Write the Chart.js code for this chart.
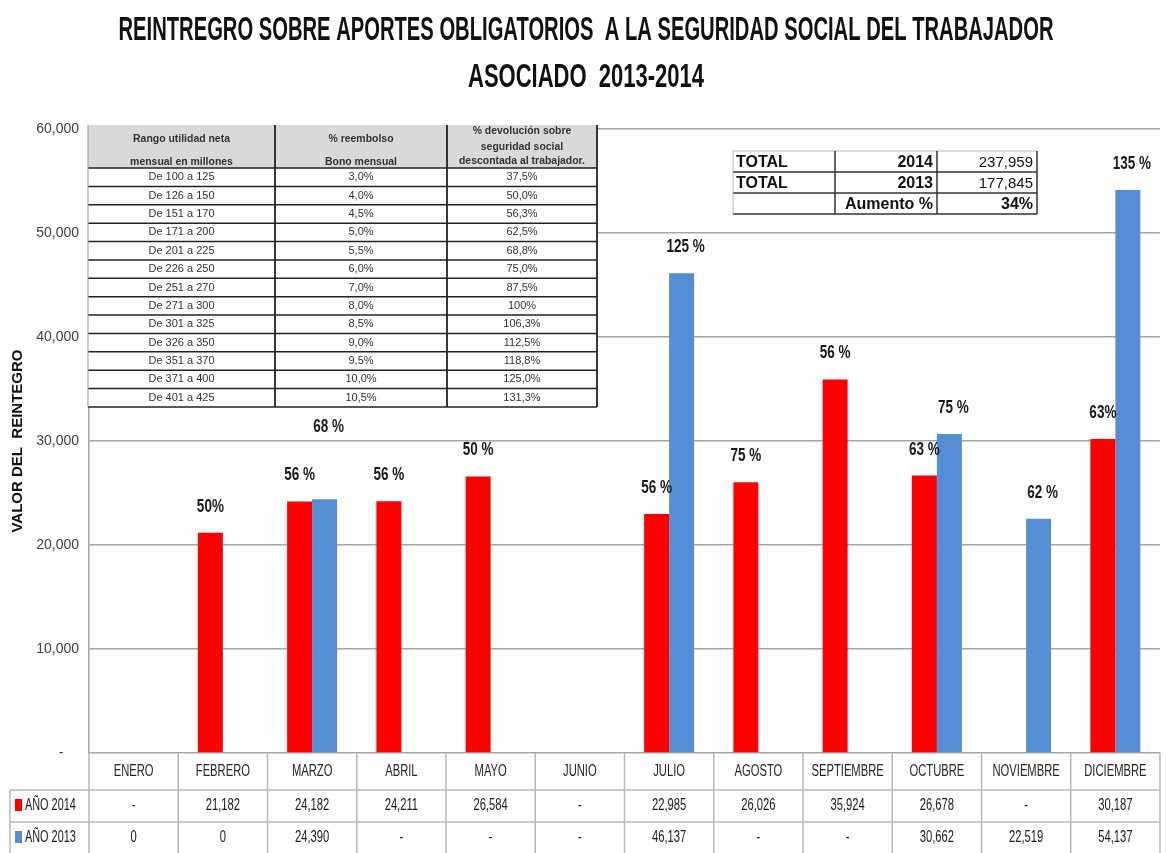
<!DOCTYPE html>
<html>
<head>
<meta charset="utf-8">
<script src="https://cdn.jsdelivr.net/npm/chart.js@4.4.1/dist/chart.umd.min.js"></script>
<style>
  html, body { margin: 0; padding: 0; background: #fff; }
  #wrap { width: 1167px; height: 853px; position: relative; }
</style>
</head>
<body>
<div id="wrap"><canvas id="grafico"></canvas></div>
<script>
/* ===== DATOS ===== */
const meses = ["ENERO", "FEBRERO", "MARZO", "ABRIL", "MAYO", "JUNIO", "JULIO", "AGOSTO", "SEPTIEMBRE", "OCTUBRE", "NOVIEMBRE", "DICIEMBRE"];
const anio2014 = [null, 21182, 24182, 24211, 26584, null, 22985, 26026, 35924, 26678, null, 30187];
const anio2013 = [0, 0, 24390, null, null, null, 46137, null, null, 30662, 22519, 54137];
const pct2014 = [null, "50%", "56 %", "56 %", "50 %", null, "56 %", "75 %", "56 %", "63 %", null, "63%"];
const pct2013 = [null, null, "68 %", null, null, null, "125 %", null, null, "75 %", "62 %", "135 %"];
const yMax = 60000;
const yStep = 10000;

// tabla de rangos
const rangos = ["De 100 a 125", "De 126 a 150", "De 151 a 170", "De 171 a 200", "De 201 a 225", "De 226 a 250", "De 251 a 270", "De 271 a 300", "De 301 a 325", "De 326 a 350", "De 351 a 370", "De 371 a 400", "De 401 a 425"];
const reembolso = ["3,0%", "4,0%", "4,5%", "5,0%", "5,5%", "6,0%", "7,0%", "8,0%", "8,5%", "9,0%", "9,5%", "10,0%", "10,5%"];
const devolucion = ["37,5%", "50,0%", "56,3%", "62,5%", "68,8%", "75,0%", "87,5%", "100%", "106,3%", "112,5%", "118,8%", "125,0%", "131,3%"];

const ROJO = "#ff0000";
const AZUL = "#558ed5";

/* ===== UTILIDADES ===== */
function fmt(v) {
    if (v === null) return "-";
    if (v === 0) return "0";
    return v.toLocaleString("en-US");
}

function suma(arr) {
    return arr.reduce((a, b) => a + (b || 0), 0);
}

// texto comprimido horizontalmente (imita Calibri estrecho)
function txt(ctx, s, x, y, font, color, align, sx) {
    ctx.save();
    ctx.font = font;
    ctx.fillStyle = color;
    ctx.textAlign = align || "center";
    ctx.textBaseline = "middle";
    ctx.translate(x, y);
    ctx.scale(sx || 1, 1);
    ctx.fillText(s, 0, 0);
    ctx.restore();
}

function linea(ctx, x1, y1, x2, y2, color, w) {
    ctx.save();
    ctx.strokeStyle = color;
    ctx.lineWidth = w;
    ctx.beginPath();
    ctx.moveTo(x1, y1);
    ctx.lineTo(x2, y2);
    ctx.stroke();
    ctx.restore();
}

/* ===== PLUGIN: titulo, tablas, etiquetas ===== */
const extras = {
    id: "extras",
    afterDraw(chart) {
        const ctx = chart.ctx;
        const area = chart.chartArea;
        const xs = chart.scales.x;

        /* --- titulo --- */
        ctx.save();
        ctx.font = "bold 34px 'Liberation Sans', Arial, sans-serif";
        ctx.fillStyle = "#111";
        ctx.textAlign = "center";
        ctx.textBaseline = "middle";
        ctx.fillText("REINTREGRO SOBRE APORTES OBLIGATORIOS  A LA SEGURIDAD SOCIAL DEL TRABAJADOR", 586, 31, 935);
        ctx.fillText("ASOCIADO  2013-2014", 586, 78, 236);
        ctx.restore();

        /* --- titulo eje Y --- */
        ctx.save();
        ctx.translate(18, 441);
        ctx.rotate(-Math.PI / 2);
        ctx.font = "bold 15px 'Liberation Sans', Arial, sans-serif";
        ctx.fillStyle = "#111";
        ctx.textAlign = "center";
        ctx.textBaseline = "middle";
        ctx.fillText("VALOR DEL  REINTEGRO", 0, 0);
        ctx.restore();

        /* --- etiquetas de porcentaje --- */
        const m14 = chart.getDatasetMeta(0).data;
        const m13 = chart.getDatasetMeta(1).data;
        const fontPct = "bold 18px 'Liberation Sans', Arial, sans-serif";
        meses.forEach((_, j) => {
            if (pct2014[j]) {
                txt(ctx, pct2014[j], m14[j].x, m14[j].y - 26, fontPct, "#1a1a1a", "center", 0.75);
            }
            if (pct2013[j]) {
                let y = m13[j].y - 26;
                if (pct2014[j] && Math.abs(m14[j].y - m13[j].y) < 25) y -= 46;
                txt(ctx, pct2013[j], m13[j].x + 4, y, fontPct, "#1a1a1a", "center", 0.75);
            }
        });

        /* --- tabla de datos bajo el grafico --- */
        const gris = "#b8b8b8";
        const half = (xs.getPixelForValue(1) - xs.getPixelForValue(0)) / 2;
        const y0 = area.bottom, y1 = 790, y2 = 822, y3 = 853;
        const fontTab = "16px 'Liberation Sans', Arial, sans-serif";
        linea(ctx, 10, y1, area.right, y1, gris, 1.5);
        linea(ctx, 10, y2, area.right, y2, gris, 1.5);
        linea(ctx, 10, y1, 10, y3, gris, 1.5);
        meses.forEach((mes, j) => {
            const cx = xs.getPixelForValue(j);
            linea(ctx, cx - half, y0, cx - half, y3, gris, 1.5);
            txt(ctx, mes, cx, (y0 + y1) / 2, fontTab, "#262626", "center", 0.7);
            txt(ctx, fmt(anio2014[j]), cx, (y1 + y2) / 2, fontTab, "#1a1a1a", "center", 0.7);
            txt(ctx, fmt(anio2013[j]), cx, (y2 + y3) / 2, fontTab, "#1a1a1a", "center", 0.7);
        });
        linea(ctx, area.right, y0, area.right, y3, gris, 1.5);
        ctx.fillStyle = ROJO;
        ctx.fillRect(15, 799, 7, 12);
        ctx.fillStyle = AZUL;
        ctx.fillRect(15, 831, 7, 12);
        txt(ctx, "AÑO 2014", 25, (y1 + y2) / 2, fontTab, "#1a1a1a", "left", 0.68);
        txt(ctx, "AÑO 2013", 25, (y2 + y3) / 2, fontTab, "#1a1a1a", "left", 0.68);

        /* --- tabla de rangos --- */
        const tx = [88, 275, 447, 597];
        const ty0 = 125, tyH = 168, tyEnd = 407;
        const rh = (tyEnd - tyH) / rangos.length;
        ctx.fillStyle = "#fff";
        ctx.fillRect(tx[0], ty0, tx[3] - tx[0], tyEnd - ty0);
        ctx.fillStyle = "#d9d9d9";
        ctx.fillRect(tx[0], ty0, tx[3] - tx[0], tyH - ty0);
        const fh = "bold 11px 'Liberation Sans', Arial, sans-serif";
        const fb = "11px 'Liberation Sans', Arial, sans-serif";
        const c1 = (tx[0] + tx[1]) / 2, c2 = (tx[1] + tx[2]) / 2, c3 = (tx[2] + tx[3]) / 2;
        txt(ctx, "Rango utilidad neta", c1, 139, fh, "#333", "center", 0.95);
        txt(ctx, "mensual en millones", c1, 162, fh, "#333", "center", 0.95);
        txt(ctx, "% reembolso", c2, 139, fh, "#333", "center", 0.95);
        txt(ctx, "Bono mensual", c2, 162, fh, "#333", "center", 0.95);
        txt(ctx, "% devolución sobre", c3, 131, fh, "#333", "center", 0.95);
        txt(ctx, "seguridad social", c3, 147, fh, "#333", "center", 0.95);
        txt(ctx, "descontada al trabajador.", c3, 161, fh, "#333", "center", 0.95);
        rangos.forEach((r, k) => {
            const cy = tyH + rh * (k + 0.5);
            txt(ctx, r, c1, cy, fb, "#333", "center", 1);
            txt(ctx, reembolso[k], c2, cy, fb, "#333", "center", 1);
            txt(ctx, devolucion[k], c3, cy, fb, "#333", "center", 1);
        });
        for (let k = 0; k <= rangos.length; k++) {
            const yy = tyH + rh * k;
            linea(ctx, tx[0], yy, tx[3], yy, "#222", 1.5);
        }
        linea(ctx, tx[0], ty0, tx[0], tyEnd, "#999", 1);
        linea(ctx, tx[1], ty0, tx[1], tyEnd, "#222", 1.8);
        linea(ctx, tx[2], ty0, tx[2], tyEnd, "#222", 1.8);
        linea(ctx, tx[3], ty0, tx[3], tyEnd, "#222", 1.8);

        /* --- tabla de totales --- */
        const tot14 = suma(anio2014);
        const tot13 = suma(anio2013);
        const aumento = Math.round((tot14 / tot13 - 1) * 100) + "%";
        const bx = [733, 835, 937, 1037];
        const by = [151, 172, 193, 214];
        ctx.fillStyle = "#fff";
        ctx.fillRect(bx[0], by[0], bx[3] - bx[0], by[3] - by[0]);
        const fB = "bold 16px 'Liberation Sans', Arial, sans-serif";
        const fN = "15px 'Liberation Sans', Arial, sans-serif";
        const r1 = (by[0] + by[1]) / 2 + 1, r2 = (by[1] + by[2]) / 2 + 1, r3 = (by[2] + by[3]) / 2 + 1;
        txt(ctx, "TOTAL", bx[0] + 3, r1, fB, "#111", "left", 1);
        txt(ctx, "2014", bx[2] - 4, r1, fB, "#111", "right", 1);
        txt(ctx, fmt(tot14), bx[3] - 4, r1, fN, "#111", "right", 1);
        txt(ctx, "TOTAL", bx[0] + 3, r2, fB, "#111", "left", 1);
        txt(ctx, "2013", bx[2] - 4, r2, fB, "#111", "right", 1);
        txt(ctx, fmt(tot13), bx[3] - 4, r2, fN, "#111", "right", 1);
        txt(ctx, "Aumento %", bx[2] - 4, r3, fB, "#111", "right", 1);
        txt(ctx, aumento, bx[3] - 4, r3, fB, "#111", "right", 1);
        linea(ctx, bx[0], by[0], bx[3], by[0], "#bbb", 1);
        linea(ctx, bx[0], by[1], bx[3], by[1], "#333", 1.5);
        linea(ctx, bx[0], by[2], bx[3], by[2], "#333", 1.5);
        linea(ctx, bx[0], by[3], bx[3], by[3], "#333", 1.5);
        linea(ctx, bx[0], by[0], bx[0], by[3], "#bbb", 1);
        linea(ctx, bx[1], by[0], bx[1], by[3], "#333", 1.5);
        linea(ctx, bx[2], by[0], bx[2], by[3], "#333", 1.5);
        linea(ctx, bx[3], by[0], bx[3], by[3], "#333", 1.5);
    }
};

/* ===== GRAFICO ===== */
new Chart(document.getElementById("grafico"), {
    type: "bar",
    data: {
        labels: meses,
        datasets: [
            { label: "AÑO 2014", data: anio2014, backgroundColor: ROJO, categoryPercentage: 0.56, barPercentage: 1.0 },
            { label: "AÑO 2013", data: anio2013, backgroundColor: AZUL, categoryPercentage: 0.56, barPercentage: 1.0 }
        ]
    },
    options: {
        responsive: true,
        maintainAspectRatio: false,
        animation: false,
        layout: { padding: { top: 129, right: 7, bottom: 100, left: 0 } },
        plugins: {
            legend: { display: false },
            tooltip: { enabled: false }
        },
        scales: {
            x: { display: false },
            y: {
                min: 0,
                max: yMax,
                afterFit: (s) => { s.width = 89; },
                ticks: {
                    stepSize: yStep,
                    padding: 10,
                    color: "#404040",
                    font: { family: "'Liberation Sans', Arial, sans-serif", size: 14 },
                    callback: (v) => v === 0 ? "-    " : v.toLocaleString("en-US")
                },
                grid: { color: "#a6a6a6", lineWidth: 1.5, drawTicks: false },
                border: { display: true, color: "#a6a6a6", width: 1.5 }
            }
        }
    },
    plugins: [extras]
});
</script>
</body>
</html>
